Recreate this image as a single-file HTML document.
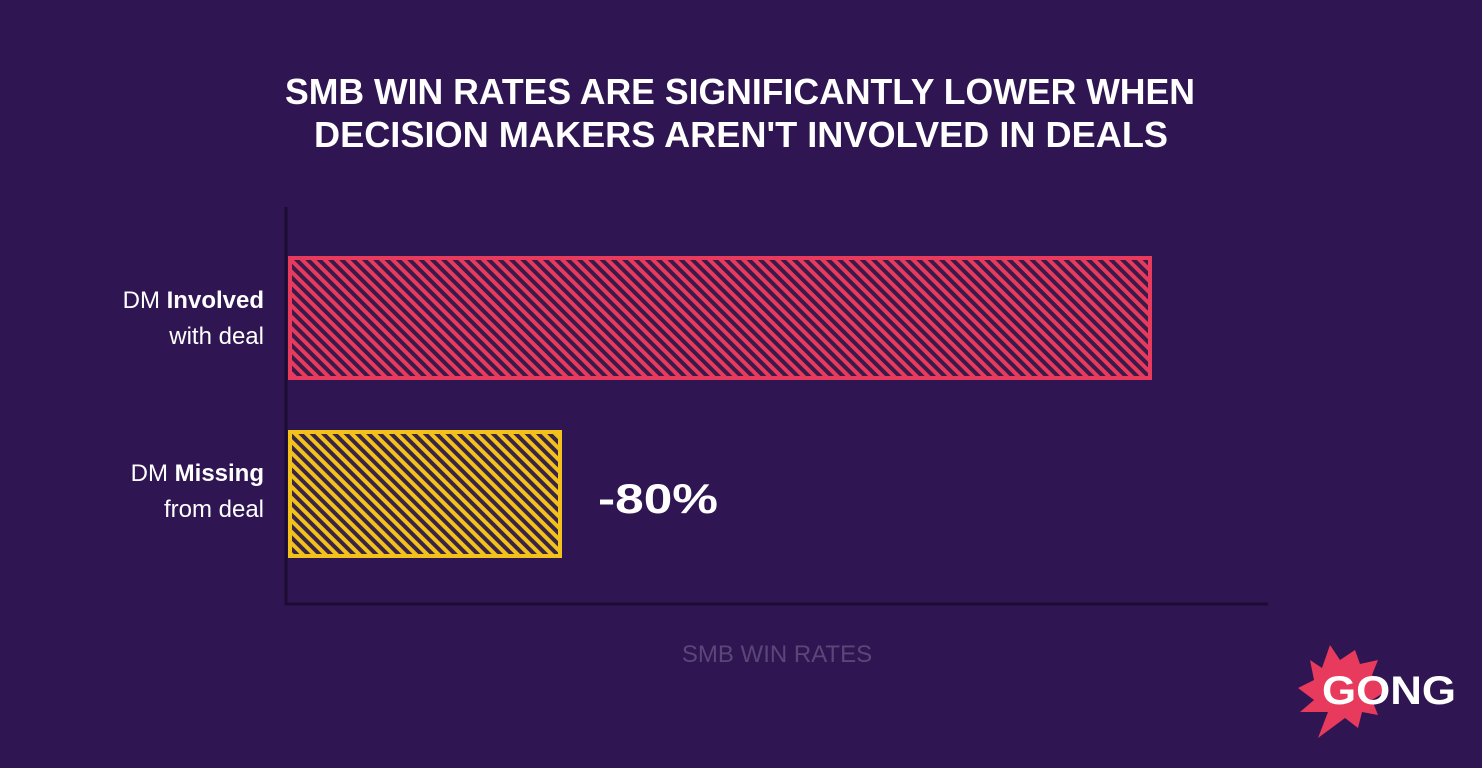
<!DOCTYPE html>
<html><head><meta charset="utf-8"><style>
html,body{margin:0;padding:0;background:#2f1552;}
svg{display:block}
</style></head><body>
<svg width="1482" height="768" viewBox="0 0 1482 768" xmlns="http://www.w3.org/2000/svg" font-family="Liberation Sans, sans-serif">
<defs>
<pattern id="pr" patternUnits="userSpaceOnUse" width="8" height="8" patternTransform="rotate(-45)">
<rect width="8" height="8" fill="#e83a5c"/><rect width="4" height="8" fill="#3a1a4a"/>
</pattern>
<pattern id="py" patternUnits="userSpaceOnUse" width="8" height="8" patternTransform="rotate(-45)">
<rect width="8" height="8" fill="#f2c21b"/><rect width="4" height="8" fill="#3a2446"/>
</pattern>
</defs>
<rect width="1482" height="768" fill="#2f1552"/>
<text x="740" y="104" text-anchor="middle" fill="#fff" font-weight="bold" font-size="36" textLength="910" lengthAdjust="spacingAndGlyphs">SMB WIN RATES ARE SIGNIFICANTLY LOWER WHEN</text>
<text x="741" y="147" text-anchor="middle" fill="#fff" font-weight="bold" font-size="36" textLength="854" lengthAdjust="spacingAndGlyphs">DECISION MAKERS AREN'T INVOLVED IN DEALS</text>
<line x1="286" y1="207" x2="286" y2="605" stroke="#1c0b33" stroke-width="3"/>
<line x1="285" y1="604" x2="1268" y2="604" stroke="#1c0b33" stroke-width="3"/>
<rect x="290" y="258" width="860" height="120" fill="url(#pr)" stroke="#e83a5c" stroke-width="4"/>
<rect x="290" y="432" width="270" height="124" fill="url(#py)" stroke="#f2c21b" stroke-width="4"/>
<g fill="#fff" font-size="24" text-anchor="end">
<text x="264" y="308">DM <tspan font-weight="bold">Involved</tspan></text>
<text x="264" y="344">with deal</text>
<text x="264" y="481">DM <tspan font-weight="bold">Missing</tspan></text>
<text x="264" y="517">from deal</text>
</g>
<text x="598" y="513" fill="#fff" font-weight="bold" font-size="42" textLength="120" lengthAdjust="spacingAndGlyphs">-80%</text>
<text x="777" y="662" text-anchor="middle" fill="#5a4777" font-size="24">SMB WIN RATES</text>
<polygon points="1310,660 1322,668 1330,645 1340,660 1355,650 1360,664 1378,660 1372,675 1388,690 1372,700 1378,715 1362,712 1358,728 1345,718 1318,738 1328,712 1300,712 1314,700 1298,688 1314,680" fill="#e83a5c"/>
<text x="1322" y="704" fill="#fff" font-weight="bold" font-size="40" textLength="134" lengthAdjust="spacingAndGlyphs">GONG</text>
</svg>
</body></html>
